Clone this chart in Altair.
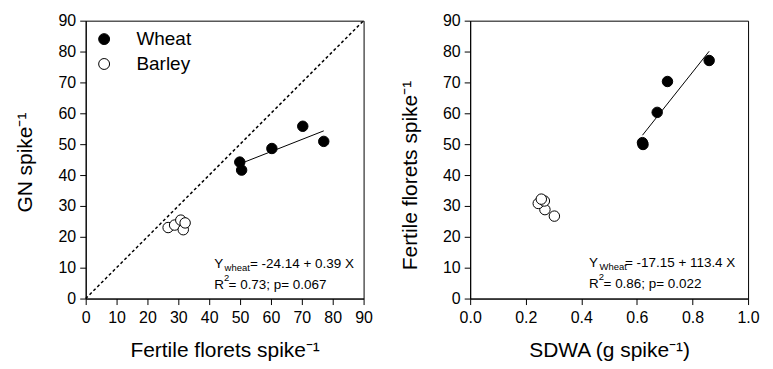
import altair as alt
import pandas as pd

# ---------------- data ----------------
species = ["Wheat"] * 5 + ["Barley"] * 5
fertile_florets = [49.9, 50.5, 60.3, 70.3, 77.1, 26.7, 28.8, 30.8, 31.6, 32.2]
grain_number = [44.2, 41.6, 48.6, 55.8, 50.9, 23.0, 23.8, 25.4, 22.3, 24.5]
sdwa = [0.622, 0.620, 0.673, 0.710, 0.860, 0.303, 0.269, 0.245, 0.267, 0.256]

one_to_one = [0, 90]
ticks_0_90 = list(range(0, 91, 10))
ticks_sdwa = [0.0, 0.2, 0.4, 0.6, 0.8, 1.0]

left_eq = ["Y", "wheat", "= -24.14 + 0.39 X"]
left_stats = ["R", "2", "= 0.73; p= 0.067"]
right_eq = ["Y", "Wheat", "= -17.15 + 113.4 X"]
right_stats = ["R", "2", "= 0.86; p= 0.022"]

left_anchor = (41.6, [10.0, 3.0])
right_anchor = (0.428, [10.3, 3.5])

df = pd.DataFrame({"species": species, "ff": fertile_florets,
                   "gn": grain_number, "sdwa": sdwa})
diag = pd.DataFrame({"ff": one_to_one, "gn": one_to_one})

FONT = "Liberation Sans"
W = H = 279

fill_scale = alt.Scale(domain=["Wheat", "Barley"], range=["black", "white"])

ff_x_axis = alt.Axis(values=ticks_0_90, title="Fertile florets spike⁻¹",
                     titleY=58, titleBaseline="alphabetic", labelFlush=False,
                     labelOverlap=False)
gn_y_axis = alt.Axis(values=ticks_0_90, title="GN spike⁻¹", titleAngle=270,
                     titleX=-54, titleY=142, titleBaseline="alphabetic")
sd_x_axis = alt.Axis(values=ticks_sdwa, format=".1f", title="SDWA (g spike⁻¹)",
                     titleY=58, titleBaseline="alphabetic", labelFlush=False,
                     labelOverlap=False)
ff_y_axis = alt.Axis(values=ticks_0_90, title="Fertile florets spike⁻¹",
                     titleAngle=270, titleX=-54, titleY=155,
                     titleBaseline="alphabetic")

sc_090 = alt.Scale(domain=[0, 90], nice=False, zero=False)
sc_01 = alt.Scale(domain=[0, 1], nice=False, zero=False)


def annotation(xs, ys, xaxis, yaxis, anchor, line1, line2):
    ax, (y1, y2) = anchor
    layers = []
    pieces = [
        (line1[0], y1, 0, 0, 13.5),
        (line1[1], y1, 10.5, 3.5, 9.5),
        (line1[2], y1, 36, 0, 13.5),
        (line2[0], y2, 0, 0, 13.5),
        (line2[1], y2, 9.8, -8, 9.5),
        (line2[2], y2, 14.5, 0, 13.5),
    ]
    for txt, yy, dx, dy, fs in pieces:
        d = pd.DataFrame({"ax": [ax], "ay": [yy], "t": [txt]})
        layers.append(
            alt.Chart(d).mark_text(align="left", baseline="alphabetic",
                                   dx=dx, dy=dy, fontSize=fs, font=FONT,
                                   color="black")
            .encode(x=alt.X("ax:Q", scale=xs, axis=xaxis),
                    y=alt.Y("ay:Q", scale=ys, axis=yaxis),
                    text="t:N")
        )
    return layers


# ---------------- left panel ----------------
left_diag = alt.Chart(diag).mark_line(color="black", strokeWidth=1.5,
                                      strokeDash=[3, 2.5]).encode(
    x=alt.X("ff:Q", scale=sc_090, axis=ff_x_axis),
    y=alt.Y("gn:Q", scale=sc_090, axis=gn_y_axis),
)
left_fit = alt.Chart(df).transform_filter(alt.datum.species == "Wheat") \
    .transform_regression("ff", "gn").mark_line(color="black", strokeWidth=1) \
    .encode(x=alt.X("ff:Q", scale=sc_090, axis=ff_x_axis),
            y=alt.Y("gn:Q", scale=sc_090, axis=gn_y_axis))
left_pts = alt.Chart(df).mark_point(shape="circle", filled=True, stroke="black",
                                    strokeWidth=1, opacity=1, size=110).encode(
    x=alt.X("ff:Q", scale=sc_090, axis=ff_x_axis),
    y=alt.Y("gn:Q", scale=sc_090, axis=gn_y_axis),
    fill=alt.Fill("species:N", scale=fill_scale,
                  legend=alt.Legend(title=None, orient="top-left", offset=9,
                                    labelFontSize=19, labelFont=FONT,
                                    symbolSize=120, symbolType="circle",
                                    symbolStrokeColor="black",
                                    symbolStrokeWidth=1, labelOffset=23,
                                    rowPadding=5, padding=0,
                                    labelColor="black")),
)
left = alt.layer(left_diag, left_fit, left_pts,
                 *annotation(sc_090, sc_090, ff_x_axis, gn_y_axis, left_anchor,
                             left_eq, left_stats)
                 ).properties(width=W, height=H)

# ---------------- right panel ----------------
right_fit = alt.Chart(df).transform_filter(alt.datum.species == "Wheat") \
    .transform_regression("sdwa", "ff").mark_line(color="black", strokeWidth=1) \
    .encode(x=alt.X("sdwa:Q", scale=sc_01, axis=sd_x_axis),
            y=alt.Y("ff:Q", scale=sc_090, axis=ff_y_axis))
right_pts = alt.Chart(df).mark_point(shape="circle", filled=True, stroke="black",
                                     strokeWidth=1, opacity=1, size=110).encode(
    x=alt.X("sdwa:Q", scale=sc_01, axis=sd_x_axis),
    y=alt.Y("ff:Q", scale=sc_090, axis=ff_y_axis),
    fill=alt.Fill("species:N", scale=fill_scale, legend=None),
)
right = alt.layer(right_fit, right_pts,
                  *annotation(sc_01, sc_090, sd_x_axis, ff_y_axis, right_anchor,
                              right_eq, right_stats)
                  ).properties(width=W, height=H)

chart = alt.hconcat(left, right, spacing=25).resolve_legend(
    fill="independent"
).properties(
    padding={"left": 6, "top": 3, "right": 5, "bottom": 5}
).configure_view(stroke="black", strokeWidth=1).configure_axis(
    grid=False, domainColor="black", domainWidth=1, tickColor="black",
    tickWidth=1, tickSize=6, labelFontSize=16, labelFont=FONT,
    labelColor="black", titleFontSize=21, titleFont=FONT,
    titleFontWeight="normal", titleColor="black", labelPadding=4,
).configure_axisX(labelPadding=5)

chart.save("out.html", embed_options={"renderer": "svg", "actions": False})
